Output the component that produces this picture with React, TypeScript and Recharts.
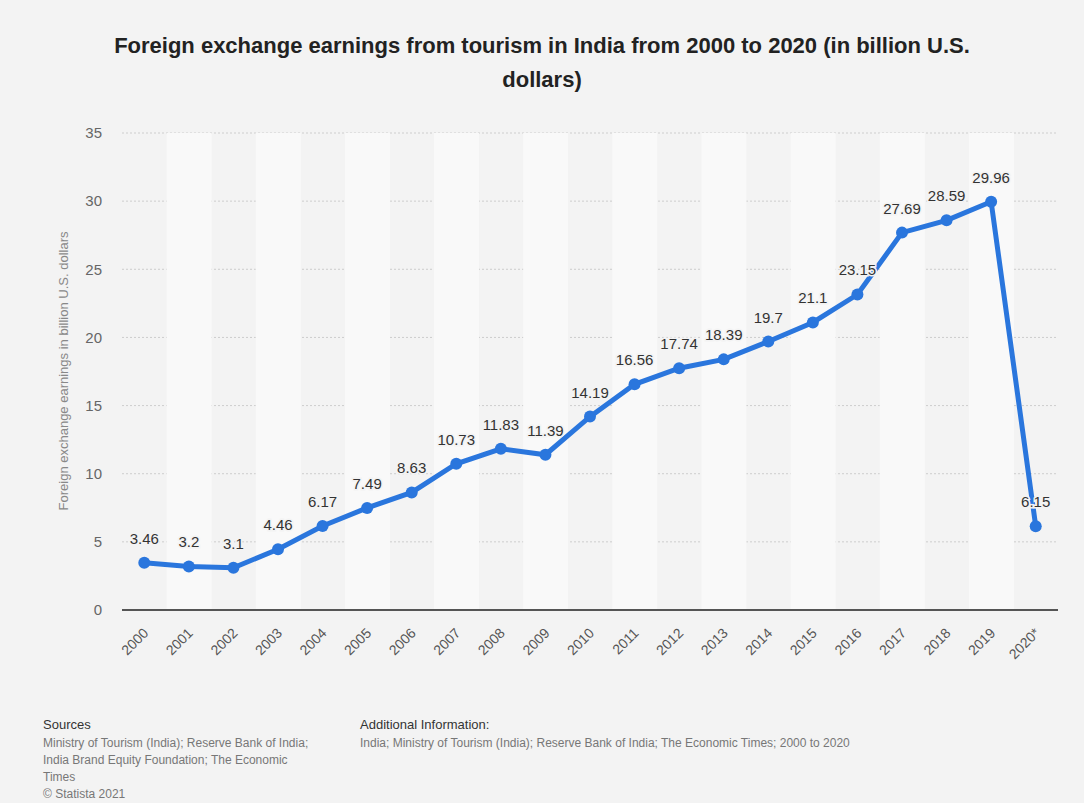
import { ComposedChart, Line, Bar, XAxis, YAxis, CartesianGrid, LabelList } from 'recharts';

const years = ['2000','2001','2002','2003','2004','2005','2006','2007','2008','2009','2010','2011','2012','2013','2014','2015','2016','2017','2018','2019','2020*'];
const earnings = [3.46,3.2,3.1,4.46,6.17,7.49,8.63,10.73,11.83,11.39,14.19,16.56,17.74,18.39,19.7,21.1,23.15,27.69,28.59,29.96,6.15];
const yTicks = [0,5,10,15,20,25,30,35];

const data = years.map((y, i) => ({ year: y, value: earnings[i], stripe: i % 2 === 1 ? 35 : null }));

const XTick = (props:any) => {
  const { x, y, payload } = props;
  return (
    <text x={x + 5} y={y + 16} transform={`rotate(-45, ${x + 5}, ${y + 16})`} textAnchor="end"
      fontSize={14} fill="#555" fontFamily="Liberation Sans, Arial, sans-serif">{payload.value}</text>
  );
};

export default function App() {
  const font = 'Liberation Sans, Arial, sans-serif';
  return (
    <div style={{ position: 'absolute', left: 0, top: 0, width: 1084, height: 803, background: '#f3f3f3', fontFamily: font }}>
      <div style={{ position: 'absolute', top: 29, left: 92, width: 900, textAlign: 'center', fontWeight: 'bold', fontSize: 22, lineHeight: '34px', color: '#222' }}>
        Foreign exchange earnings from tourism in India from 2000 to 2020 (in billion U.S. dollars)
      </div>
      <div style={{ position: 'absolute', left: 0, top: 0 }}>
        <ComposedChart width={1084} height={700} data={data} barCategoryGap={0}
          margin={{ top: 133, right: 26, left: 0, bottom: 30 }}>
          <CartesianGrid vertical={false} stroke="#cdcdcd" strokeDasharray="2 2" />
          <XAxis dataKey="year" height={60} tick={<XTick />} tickLine={false} axisLine={{ stroke: '#555', strokeWidth: 2 }} interval={0} />
          <YAxis domain={[0, 35]} ticks={yTicks} width={122} tickLine={false} axisLine={false} tickSize={0} tickMargin={20}
            tick={{ fill: '#666', fontSize: 15, fontFamily: font }}
            label={{ content: () => (
              <text x={68} y={371} transform="rotate(-90, 68, 371)" textAnchor="middle" fontSize={13} fill="#888" fontFamily={font}>
                Foreign exchange earnings in billion U.S. dollars
              </text>
            ) }} />
          <Bar dataKey="stripe" fill="#f9f9f9" isAnimationActive={false} />
          <Line dataKey="value" stroke="#2a76dd" strokeWidth={5} isAnimationActive={false}
            dot={{ r: 6, fill: '#2a76dd', stroke: '#2a76dd', strokeWidth: 0 }} activeDot={false}>
            <LabelList dataKey="value" position="top" offset={19} fontSize={15} fill="#333"
              style={{ fontFamily: font, stroke: '#f3f3f3', strokeWidth: 3, paintOrder: 'stroke' }} />
          </Line>
        </ComposedChart>
      </div>
      <div style={{ position: 'absolute', left: 43, top: 716, fontSize: 12, color: '#777', lineHeight: '17px', width: 300 }}>
        <div style={{ color: '#333', fontSize: 13, marginBottom: 2 }}>Sources</div>
        <div>Ministry of Tourism (India); Reserve Bank of India;<br />India Brand Equity Foundation; The Economic<br />Times</div>
        <div>© Statista 2021</div>
      </div>
      <div style={{ position: 'absolute', left: 360, top: 716, fontSize: 12, color: '#777', lineHeight: '17px', width: 700 }}>
        <div style={{ color: '#333', fontSize: 13, marginBottom: 2 }}>Additional Information:</div>
        <div>India; Ministry of Tourism (India); Reserve Bank of India; The Economic Times; 2000 to 2020</div>
      </div>
    </div>
  );
}
